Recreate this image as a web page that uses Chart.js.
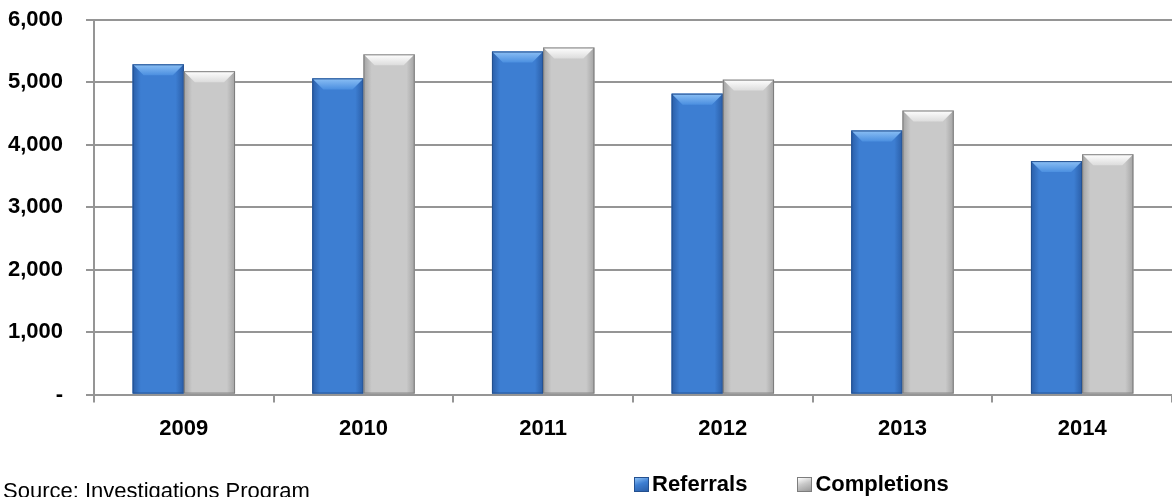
<!DOCTYPE html>
<html>
<head>
  <meta charset="utf-8">
  <title>Referrals and Completions</title>
  <script src="https://cdn.jsdelivr.net/npm/chart.js@4.4.1/dist/chart.umd.min.js"></script>
  <style>
    html, body { margin: 0; padding: 0; background: #fff; }
    #wrap { position: relative; width: 1172px; height: 497px; overflow: hidden; }
    canvas { display: block; }
    #source { position: absolute; left: 3px; top: 478px; font: 22px "Liberation Sans", Arial, sans-serif; color: #000; white-space: nowrap; }
    #legend { position: absolute; left: 634px; top: 471px; display: flex; font: bold 22px "Liberation Sans", Arial, sans-serif; color: #000; }
    .item { display: flex; align-items: center; margin-right: 50px; }
    .box { width: 15px; height: 15px; margin-right: 3px; box-sizing: border-box; }
  </style>
</head>
<body>
  <div id="wrap">
    <canvas id="chart" width="1172" height="497"></canvas>
    <div id="legend"></div>
    <div id="source">Source: Investigations Program</div>
  </div>

  <script>
    const years = ["2009", "2010", "2011", "2012", "2013", "2014"];
    const referrals = [5290, 5065, 5495, 4820, 4230, 3740];
    const completions = [5180, 5450, 5560, 5045, 4550, 3850];
    const seriesNames = ["Referrals", "Completions"];
    const yTicks = [0, 1000, 2000, 3000, 4000, 5000, 6000];

    // colours for each series: body, side edges, top bevel, outline
    const looks = [
      { body: "#3d7ed2", edge: "#2a5ea8", top1: "#8cc0f5", top2: "#4b8fe0", border: "#24508f" },
      { body: "#c9c9c9", edge: "#a3a3a3", top1: "#ffffff", top2: "#dcdcdc", border: "#7d7d7d" }
    ];

    // draws the beveled look on top of the plain bars
    const bevel = {
      id: "bevel",
      afterDatasetsDraw(chart) {
        const ctx = chart.ctx;
        chart.data.datasets.forEach((ds, i) => {
          const st = looks[i];
          chart.getDatasetMeta(i).data.forEach(bar => {
            const p = bar.getProps(["x", "y", "width", "base"], true);
            const l = p.x - p.width / 2, r = p.x + p.width / 2, t = p.y, b = p.base;
            const d = 11;
            ctx.save();
            const g = ctx.createLinearGradient(l, 0, r, 0);
            g.addColorStop(0, st.edge);
            g.addColorStop(0.16, st.body);
            g.addColorStop(0.84, st.body);
            g.addColorStop(1, st.edge);
            ctx.fillStyle = g;
            ctx.fillRect(l, t, p.width, b - t);

            const tg = ctx.createLinearGradient(0, t, 0, t + d);
            tg.addColorStop(0, st.top1);
            tg.addColorStop(1, st.top2);
            ctx.beginPath();
            ctx.moveTo(l, t);
            ctx.lineTo(r, t);
            ctx.lineTo(r - d, t + d);
            ctx.lineTo(l + d, t + d);
            ctx.closePath();
            ctx.fillStyle = tg;
            ctx.fill();

            ctx.strokeStyle = st.border;
            ctx.lineWidth = 1;
            ctx.strokeRect(l + 0.5, t + 0.5, p.width - 1, b - t - 1);
            ctx.restore();
          });
        });
      }
    };

    const font = { family: "'Liberation Sans', Arial, sans-serif", size: 22, weight: "bold" };
    const gridColor = "#959595";

    const chart = new Chart(document.getElementById("chart"), {
      type: "bar",
      data: {
        labels: years,
        datasets: [
          { label: seriesNames[0], data: referrals, backgroundColor: looks[0].body },
          { label: seriesNames[1], data: completions, backgroundColor: looks[1].body }
        ]
      },
      options: {
        responsive: false,
        animation: false,
        events: [],
        layout: { padding: { top: 20, right: 0, bottom: 42, left: 0 } },
        datasets: { bar: { categoryPercentage: 0.57, barPercentage: 1.0 } },
        plugins: { legend: { display: false }, tooltip: { enabled: false } },
        scales: {
          x: {
            grid: { display: true, drawOnChartArea: false, drawTicks: true, tickLength: 8, color: gridColor, lineWidth: 2 },
            border: { display: true, color: gridColor, width: 2 },
            ticks: { color: "#000", font: font, padding: 13 }
          },
          y: {
            min: yTicks[0],
            max: yTicks[yTicks.length - 1],
            afterFit: s => { s.width = 94; s.paddingTop = 0; s.paddingBottom = 0; },
            afterBuildTicks: s => { s.ticks = yTicks.map(v => ({ value: v })); },
            grid: { color: gridColor, lineWidth: 2, tickLength: 8 },
            border: { display: true, color: gridColor, width: 2 },
            ticks: {
              color: "#000",
              font: font,
              padding: 23,
              callback: v => v === 0 ? "-" : v.toLocaleString("en-US")
            }
          }
        }
      },
      plugins: [bevel]
    });

    // legend made from the dataset labels
    const legend = document.getElementById("legend");
    const boxFills = [
      "linear-gradient(160deg, #8cc0f5 0%, #3d7ed2 45%, #2a5ea8 100%)",
      "linear-gradient(160deg, #ffffff 0%, #c9c9c9 45%, #9a9a9a 100%)"
    ];
    chart.data.datasets.forEach((ds, i) => {
      const item = document.createElement("div");
      item.className = "item";
      const box = document.createElement("span");
      box.className = "box";
      box.style.background = boxFills[i];
      box.style.border = "1px solid " + looks[i].border;
      const txt = document.createElement("span");
      txt.textContent = ds.label;
      item.appendChild(box);
      item.appendChild(txt);
      legend.appendChild(item);
    });
  </script>
</body>
</html>
